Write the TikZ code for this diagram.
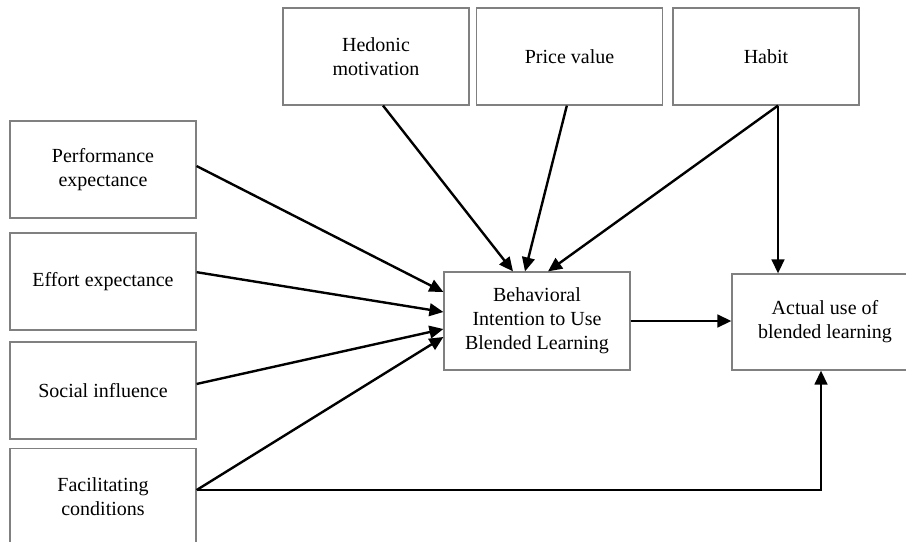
\documentclass[tikz,border=0pt]{standalone}
\usepackage{fontspec}
\setmainfont{Liberation Serif}
\usetikzlibrary{arrows.meta}
\definecolor{boxgray}{RGB}{128, 128, 128}
\definecolor{inkblack}{RGB}{0, 0, 0}

\tikzset{
    factorbox/.style={draw=boxgray, line width=0.9pt, fill=white, minimum width=139.5pt, minimum height=72.75pt, align=center, inner sep=2pt, font=\fontsize{15}{18}\selectfont},
    patharrow/.style={draw=inkblack, line width=1.8pt, -{Triangle[length=10.5pt, width=9.5pt]}},
}

\begin{document}
\begin{tikzpicture}[x=0.75pt, y=-0.75pt]
    \useasboundingbox (0,0) rectangle (906,542);

    % Left column of predictors
    \node[factorbox] (perf) at (103,169.5) {Performance\\expectance};
    \node[factorbox] (effort) at (103,281.5) {Effort expectance};
    \node[factorbox] (social) at (103,390.5) {Social influence};
    \node[factorbox] (facil) at (103,497) {Facilitating\\conditions};

    % Top row of predictors
    \node[factorbox] (hedonic) at (376,56.5) {Hedonic\\motivation};
    \node[factorbox] (price) at (569.5,56.5) {Price value};
    \node[factorbox] (habit) at (766,56.5) {Habit};

    % Intention and use
    \node[factorbox, minimum height=73.5pt] (intent) at (537,321) {Behavioral\\Intention to Use\\Blended Learning};
    \node[factorbox, minimum height=72pt] (actual) at (825,322) {Actual use of\\blended learning};

    % Arrows into intention
    \draw[patharrow] ([yshift=2.6pt]perf.east) -- ([yshift=21.75pt]intent.west);
    \draw[patharrow] ([yshift=7pt]effort.east) -- ([yshift=6.75pt]intent.west);
    \draw[patharrow] ([yshift=4.9pt]social.east) -- ([yshift=-6pt]intent.west);
    \draw[patharrow] ([yshift=5.2pt]facil.east) -- ([yshift=-12pt]intent.west);
    \draw[patharrow] ([xshift=5.25pt]hedonic.south) -- ([xshift=-18pt]intent.north);
    \draw[patharrow] ([xshift=-2pt]price.south) -- ([xshift=-9pt]intent.north);
    \draw[patharrow] ([xshift=9pt]habit.south) -- ([xshift=8.25pt]intent.north);

    % Arrows into actual use
    \draw[patharrow] (intent.east) -- (intent.east -| actual.west);
    \draw[patharrow] ([xshift=9pt]habit.south) -- ([xshift=9pt]habit.south |- actual.north);
    \draw[patharrow] ([yshift=5.2pt]facil.east) -| ([xshift=-3pt]actual.south);
\end{tikzpicture}
\end{document}
